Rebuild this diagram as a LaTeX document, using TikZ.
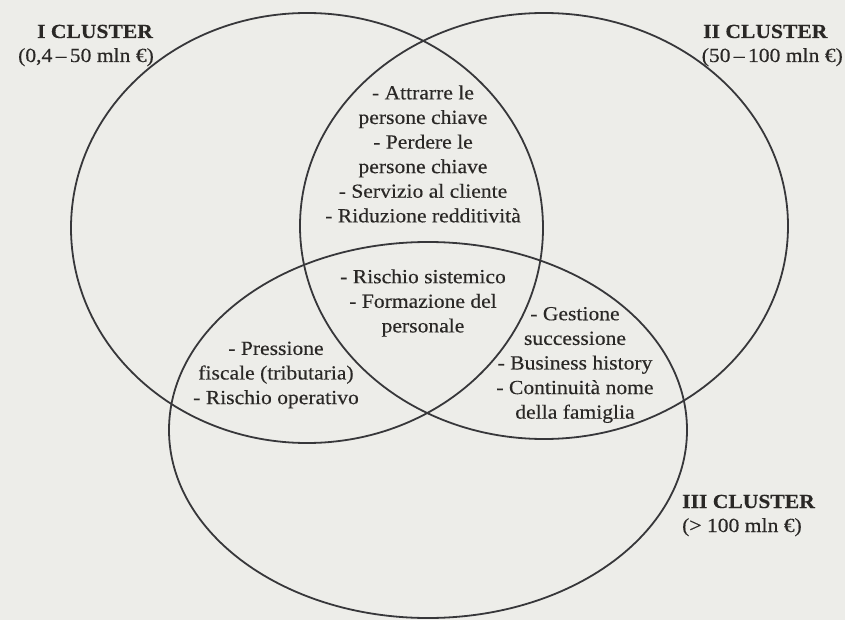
\documentclass[tikz,border=0pt]{standalone}
\usepackage{fontspec}
\setmainfont[FakeStretch=1.08, FakeBold=0.35]{Liberation Serif}
\usetikzlibrary{shapes.geometric}
\definecolor{paper}{RGB}{237,237,233}
\definecolor{ink}{RGB}{42,40,38}
\definecolor{linecol}{RGB}{55,55,58}
\tikzset{
  setcircle/.style={ellipse, draw=linecol, line width=1.8pt, inner sep=0pt},
  itemtext/.style={align=center, text=ink, inner sep=0pt, font=\fontsize{20}{24.6}\selectfont},
  clusterhead/.style={text=ink, inner sep=0pt, font=\fontsize{20}{24.6}\selectfont\bfseries},
  clustersub/.style={text=ink, inner sep=0pt, font=\fontsize{20}{24.6}\selectfont}
}
\begin{document}
\begin{tikzpicture}[x=1pt,y=-1pt]
\fill[paper] (0,0) rectangle (845,620);
\useasboundingbox (0,0) rectangle (845,620);
% sets
\node[setcircle, minimum width=472pt, minimum height=430pt] (c1) at (307,228) {};
\node[setcircle, minimum width=488pt, minimum height=426pt] (c2) at (544,226) {};
\node[setcircle, minimum width=518pt, minimum height=376pt] (c3) at (428,430) {};
% cluster labels
\node[clusterhead, anchor=base] (h1) at (95,38) {I CLUSTER};
\node[clustersub, anchor=base] (s1) at (86,62) {(0,4\,–\,50 mln €)};
\node[clusterhead, anchor=base west] (h2) at (703,38) {II CLUSTER};
\node[clustersub, anchor=base east] (s2) at (843,62) {(50\,–\,100 mln €)};
\node[clusterhead, anchor=base west] (h3) at (682,508) {III CLUSTER};
\node[clustersub, anchor=base west] (s3) at (682,532) {(> 100 mln €)};
% region texts
\node[itemtext] (t12) at (423,154) {- Attrarre le\\persone chiave\\- Perdere le\\persone chiave\\- Servizio al cliente\\- Riduzione redditività};
\node[itemtext] (t123) at (423,303) {- Rischio sistemico\\- Formazione del\\personale};
\node[itemtext] (t13) at (276,375) {- Pressione\\fiscale (tributaria)\\- Rischio operativo};
\node[itemtext] (t23) at (575,365) {- Gestione\\successione\\- Business history\\- Continuità nome\\della famiglia};
\end{tikzpicture}
\end{document}
